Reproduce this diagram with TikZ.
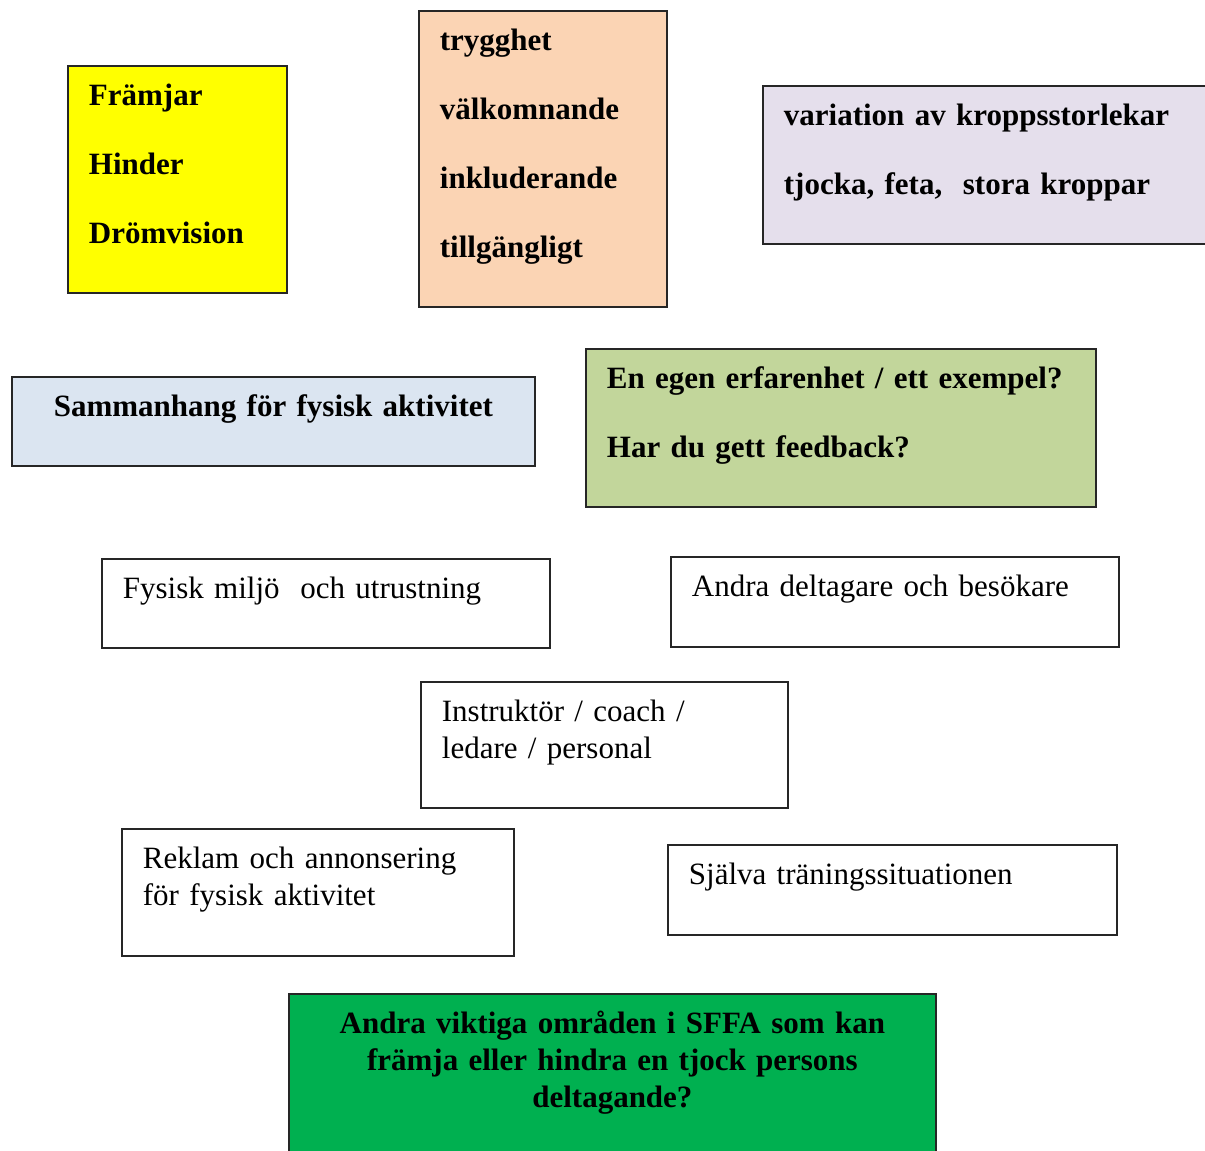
\documentclass[tikz,border=0pt]{standalone}
\usepackage{fontspec}
\setmainfont{Liberation Serif}
\hyphenpenalty=10000
\definecolor{gelb}{HTML}{FFFF00}
\definecolor{pfirsich}{HTML}{FBD4B4}
\definecolor{lavendel}{HTML}{E5DFEC}
\definecolor{hellblau}{HTML}{DBE5F1}
\definecolor{oliv}{HTML}{C2D69B}
\definecolor{gruen}{HTML}{00B050}
\begin{document}
\begin{tikzpicture}[
  x=1pt, y=-1pt,
  feld/.style={draw=black!85, line width=1.8pt, anchor=north west, inner xsep=21pt,
    inner ysep=0pt, text height=40pt, align=left, font=\fontsize{31}{36.5}\selectfont},
  fett/.style={feld, font=\fontsize{31}{69}\selectfont\bfseries},
  titel/.style={feld, align=center, font=\fontsize{31}{37}\selectfont\bfseries}
]
\clip (0,0) rectangle (1205,1151);
\node[fett, fill=gelb, text width=177pt, text depth=187pt] (framjar) at (67,65) {Främjar\\Hinder\\Drömvision};
\node[fett, fill=pfirsich, text width=206pt, text depth=256pt] (trygghet) at (418,10) {trygghet\\välkomnande\\inkluderande\\tillgängligt};
\node[fett, fill=lavendel, text width=418pt, text depth=118pt] (kroppar) at (762,85) {variation av kroppsstorlekar\\tjocka, feta,\ \ stora kroppar};
\node[titel, fill=hellblau, text width=481pt, text depth=49pt] (sammanhang) at (11,376) {Sammanhang för fysisk aktivitet};
\node[fett, fill=oliv, text width=468pt, text depth=118pt] (erfarenhet) at (585,348) {En egen erfarenhet / ett exempel?\\Har du gett feedback?};
\node[feld, text width=406pt, text depth=49pt] (miljo) at (101,558) {Fysisk miljö\ \ och utrustning};
\node[feld, text width=406pt, text depth=50pt] (deltagare) at (670,556) {Andra deltagare och besökare};
\node[feld, text width=325pt, text depth=86pt] (instruktor) at (420,681) {Instruktör / coach /\\ledare / personal};
\node[feld, text width=350pt, text depth=87pt] (reklam) at (121,828) {Reklam och annonsering\\för fysisk aktivitet};
\node[feld, text width=407pt, text depth=50pt] (traning) at (667,844) {Själva träningssituationen};
\node[titel, fill=gruen, text width=605pt, text depth=147pt] (omraden) at (288,993) {Andra viktiga områden i SFFA som kan\\främja eller hindra en tjock persons\\deltagande?};
\end{tikzpicture}
\end{document}
